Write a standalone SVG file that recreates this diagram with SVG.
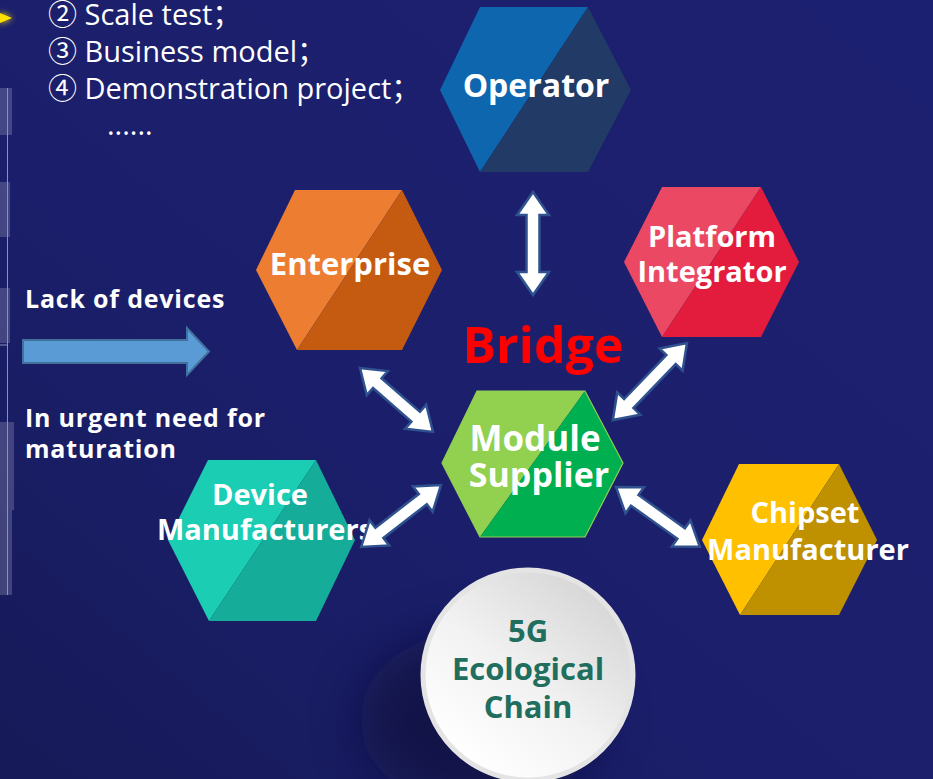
<svg xmlns="http://www.w3.org/2000/svg" width="933" height="779" viewBox="0 0 933 779">
<defs>
<linearGradient id="bg" x1="1" y1="0" x2="0" y2="1">
<stop offset="0" stop-color="#1C2070"/>
<stop offset="0.6" stop-color="#1B1F6B"/>
<stop offset="1" stop-color="#161A58"/>
</linearGradient>
<linearGradient id="disc" x1="0.85" y1="0.1" x2="0.2" y2="0.9">
<stop offset="0" stop-color="#D6D6D6"/>
<stop offset="0.55" stop-color="#F2F2F2"/>
<stop offset="1" stop-color="#FFFFFF"/>
</linearGradient>
<filter id="blur" x="-50%" y="-50%" width="200%" height="200%"><feGaussianBlur stdDeviation="25"/></filter>
<filter id="glow" x="-100%" y="-100%" width="300%" height="300%"><feGaussianBlur stdDeviation="3"/></filter>
</defs>
<style>
.hx{stroke:none}
.lbl{font-family:"Open Sans","Noto Sans",sans-serif;font-weight:700;fill:#FFFFFF;text-anchor:middle}
.side{font-family:"Open Sans","Noto Sans",sans-serif;font-weight:700;fill:#FFFFFF;font-size:25px;letter-spacing:0.8px}
.list{font-family:"Open Sans","Noto Sans CJK SC","DejaVu Sans",sans-serif;fill:#FFFFFF;font-size:29px}
.darr{fill:#FFFFFF;stroke:#2F528F;stroke-width:2.5;stroke-linejoin:miter}
.panel{fill:#FFFFFF;fill-opacity:0.18}
.eco{fill:#1F6E5E}
</style>
<rect x="0" y="0" width="933" height="779" fill="url(#bg)"/>

<g id="left-panels">
<rect class="panel" x="0" y="88" width="12" height="47"/>
<rect class="panel" x="0" y="182" width="10" height="55"/>
<rect class="panel" x="0" y="288" width="10" height="55"/>
<rect class="panel" x="0" y="422" width="14" height="88"/>
<rect class="panel" x="0" y="510" width="12" height="85" fill-opacity="0.3"/>
<path d="M7.5,88 V345 M0,345 H8 M7.5,345 V595" stroke="#8A8FBF" stroke-width="1" fill="none"/>
</g>

<g id="yellow-pointer">
<polygon points="0,12 13,18 0,24" fill="#FFE600" filter="url(#glow)" opacity="0.8"/>
<polygon points="0,13 12,18 0,23" fill="#FFE000"/>
</g>

<g id="list-text">
<text class="list" x="48" y="25">② Scale test；</text>
<text class="list" x="48" y="62">③ Business model；</text>
<text class="list" x="48" y="99">④ Demonstration project；</text>
<text class="list" x="107" y="135">......</text>
</g>

<g id="side-notes">
<text class="side" x="25" y="308">Lack of devices</text>
<polygon points="23,340 187,340 187,328 209,351.5 187,375 187,363 23,363" fill="#5B9BD5" stroke="#41719C" stroke-width="2"/>
<text class="side" x="25" y="427">In urgent need for</text>
<text class="side" x="25" y="458">maturation</text>
</g>

<g id="node-operator">
<polygon class="hx" points="480,7 588,7 480,172 440,90" fill="#0E66AF"/>
<polygon class="hx" points="588,7 631,90 588,172 480,172" fill="#213A66"/>
<text class="lbl" x="536" y="97" font-size="32">Operator</text>
</g>

<g id="node-enterprise">
<polygon class="hx" points="295,190 402,190 297,350 256,270" fill="#ED7D31"/>
<polygon class="hx" points="402,190 442,270 402,350 297,350" fill="#C55A11"/>
<text class="lbl" x="350" y="275" font-size="31">Enterprise</text>
</g>

<g id="node-platform">
<polygon class="hx" points="662,187 761,187 662,337 624,262" fill="#EB4864"/>
<polygon class="hx" points="761,187 799,262 761,337 662,337" fill="#E31C3D"/>
<text class="lbl" x="712" y="247" font-size="29">Platform</text>
<text class="lbl" x="712" y="282" font-size="29">Integrator</text>
</g>

<g id="node-module">
<polygon class="hx" points="477,391 585,391 480,537 442,463" fill="#92D050"/>
<polygon class="hx" points="585,391 623,463 585,537 480,537" fill="#00B050"/>
<polygon points="477,391 585,391 623,463 585,537 480,537 442,463" fill="none" stroke="#92D050" stroke-width="1.2"/>
<text class="lbl" x="535" y="451" font-size="35">Module</text>
<text class="lbl" x="539" y="487" font-size="34">Supplier</text>
</g>

<g id="node-device">
<polygon class="hx" points="208,460 316,460 209,621 168,540" fill="#1ACDB3"/>
<polygon class="hx" points="316,460 355,540 316,621 209,621" fill="#15AD99"/>
<text class="lbl" x="260" y="505" font-size="29">Device</text>
<text class="lbl" x="265" y="540" font-size="29">Manufacturers</text>
</g>

<g id="node-chipset">
<polygon class="hx" points="739,464 839,464 740,615 702,540" fill="#FFC000"/>
<polygon class="hx" points="839,464 877,540 839,615 740,615" fill="#BF9000"/>
<text class="lbl" x="805" y="523" font-size="29">Chipset</text>
<text class="lbl" x="808" y="560" font-size="29">Manufacturer</text>
</g>

<g id="bridge-label">
<text x="543" y="363" font-family="'Open Sans','Noto Sans',sans-serif" font-weight="700" font-size="50" fill="#FF0000" text-anchor="middle">Bridge</text>
</g>

<g id="connectors">
<polygon class="darr" transform="translate(533,192) rotate(90)" points="0,0 23,-16 23,-6.5 80,-6.5 80,-16 103,0 80,16 80,6.5 23,6.5 23,16"/>
<polygon class="darr" transform="translate(360,368) rotate(41.2)" points="0,0 23,-16 23,-6.5 74,-6.5 74,-16 97,0 74,16 74,6.5 23,6.5 23,16"/>
<polygon class="darr" transform="translate(687,343) rotate(133.9)" points="0,0 23,-16 23,-6.5 84,-6.5 84,-16 107,0 84,16 84,6.5 23,6.5 23,16"/>
<polygon class="darr" transform="translate(441,485) rotate(142.2)" points="0,0 23,-16 23,-6.5 78,-6.5 78,-16 101,0 78,16 78,6.5 23,6.5 23,16"/>
<polygon class="darr" transform="translate(616,487) rotate(35.5)" points="0,0 23,-16 23,-6.5 80,-6.5 80,-16 103,0 80,16 80,6.5 23,6.5 23,16"/>
</g>

<g id="node-5g">
<ellipse cx="480" cy="720" rx="120" ry="90" fill="#0A0D33" opacity="0.55" filter="url(#blur)"/>
<circle cx="528" cy="675" r="105" fill="url(#disc)" stroke="#E4E4E4" stroke-width="5"/>
<text class="lbl eco" x="528" y="642" font-size="31">5G</text>
<text class="lbl eco" x="528" y="680" font-size="31">Ecological</text>
<text class="lbl eco" x="528" y="718" font-size="31">Chain</text>
</g>
</svg>
